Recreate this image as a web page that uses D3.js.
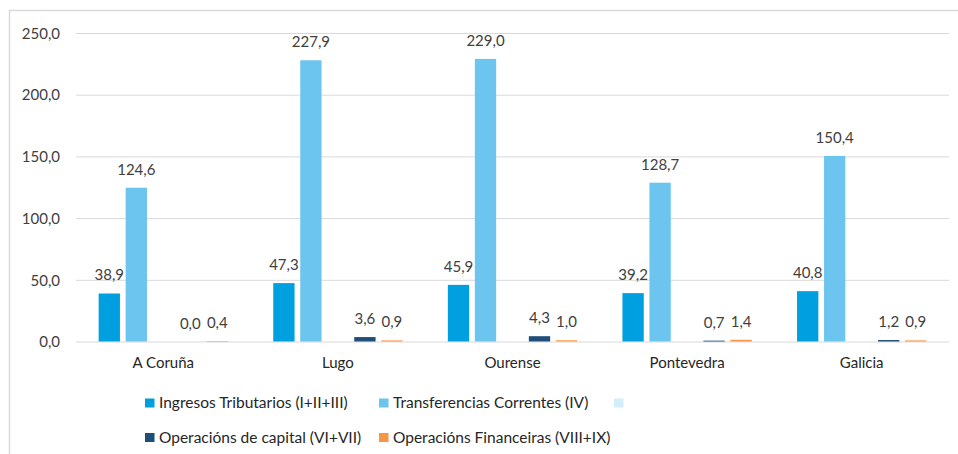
<!DOCTYPE html>
<html>
<head>
<meta charset="utf-8">
<script src="https://cdn.jsdelivr.net/npm/d3@7"></script>
<style>
  body { margin: 0; background: #fff; }
  svg text { font-family: Lato, "Noto Sans", sans-serif; }
</style>
</head>
<body>
<div id="chart"></div>
<script>
// valores por habitante
var categories = ["A Coruña", "Lugo", "Ourense", "Pontevedra", "Galicia"];
var seriesNames = ["Ingresos Tributarios (I+II+III)", "Transferencias Correntes (IV)", "", "Operacións de capital (VI+VII)", "Operacións Financeiras (VIII+IX)"];
var seriesColors = ["#009FE0", "#6BC5EE", "#D3EDFA", "#1F4E79", "#F79646"];
var ingresos = [38.9, 47.3, 45.9, 39.2, 40.8];
var transferencias = [124.6, 227.9, 229.0, 128.7, 150.4];
var baleira = [null, null, null, null, null];
var capital = [0.0, 3.6, 4.3, 0.7, 1.2];
var financeiras = [0.4, 0.9, 1.0, 1.4, 0.9];
var yTicks = [0, 50, 100, 150, 200, 250];

var values = [ingresos, transferencias, baleira, capital, financeiras];

var W = 958, H = 454;
var mLeft = 76, mRight = 949, mTop = 33, mBottom = 341.5;

var svg = d3.select("#chart").append("svg").attr("width", W).attr("height", H);

// marco do gráfico
svg.append("rect")
    .attr("x", 9.5).attr("y", 10.5)
    .attr("width", W).attr("height", H)
    .attr("fill", "none").attr("stroke", "#D9D9D9").attr("stroke-width", 1.5);

var y = d3.scaleLinear().domain([0, 250]).range([mBottom, mTop]);
var x0 = d3.scaleBand().domain(categories).range([mLeft, mRight]).padding(0);
var groupW = 129.3;
var x1 = d3.scaleBand().domain(d3.range(seriesNames.length)).range([0, groupW]).paddingInner(0.211);

var fmt = function (v) { return d3.format(".1f")(v).replace(".", ","); };

// grella
var yAxis = d3.axisLeft(y).tickValues(yTicks).tickSize(-(mRight - mLeft)).tickFormat(fmt);
var gy = svg.append("g").attr("transform", "translate(" + mLeft + ",0)").call(yAxis);
gy.select(".domain").remove();
gy.selectAll(".tick line").attr("stroke", "#D9D9D9").attr("stroke-width", 1);
gy.selectAll(".tick text")
    .attr("x", -16).attr("dy", "0.35em")
    .attr("fill", "#404040").style("font-size", "15px");

// barras
var groups = svg.append("g").selectAll("g")
    .data(categories)
    .enter().append("g")
    .attr("transform", function (d) {
        return "translate(" + (x0(d) + (x0.bandwidth() - groupW) / 2) + ",0)";
    });

groups.each(function (cat, ci) {
    var g = d3.select(this);
    values.forEach(function (arr, si) {
        var v = arr[ci];
        if (v == null) return;
        g.append("rect")
            .attr("x", x1(si))
            .attr("y", y(v))
            .attr("width", x1.bandwidth())
            .attr("height", y(0) - y(v))
            .attr("fill", seriesColors[si]);
        g.append("text")
            .attr("x", x1(si) + x1.bandwidth() / 2)
            .attr("y", y(v) - 13)
            .attr("text-anchor", "middle")
            .attr("fill", "#404040")
            .style("font-size", "15px")
            .text(fmt(v));
    });
});

// etiquetas de categoría
svg.append("g").selectAll("text")
    .data(categories)
    .enter().append("text")
    .attr("x", function (d) { return x0(d) + x0.bandwidth() / 2; })
    .attr("y", 368)
    .attr("text-anchor", "middle")
    .attr("fill", "#262626")
    .style("font-size", "15px")
    .text(function (d) { return d; });

// lenda
var legendPos = [[145, 403], [379, 403], [614, 403], [145, 437.5], [379, 437.5]];
var lg = svg.append("g").selectAll("g")
    .data(seriesNames)
    .enter().append("g")
    .attr("transform", function (d, i) { return "translate(" + legendPos[i][0] + "," + legendPos[i][1] + ")"; });
lg.append("rect")
    .attr("x", 0).attr("y", -4.5)
    .attr("width", 9.5).attr("height", 9)
    .attr("fill", function (d, i) { return seriesColors[i]; });
lg.append("text")
    .attr("x", 14).attr("dy", "0.35em")
    .attr("fill", "#262626")
    .style("font-size", "15.5px")
    .text(function (d) { return d; });
</script>
</body>
</html>
